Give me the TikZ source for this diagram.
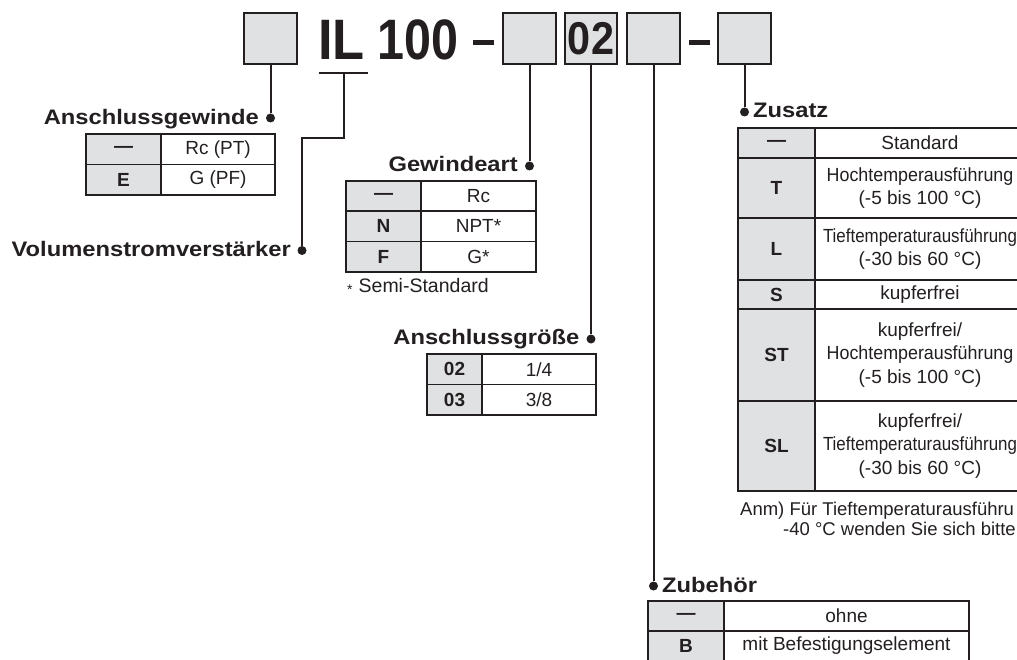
\documentclass[tikz,border=0pt]{standalone}
\usepackage{fontspec}
\setmainfont{Liberation Sans}
\usetikzlibrary{positioning}

\definecolor{ink}{HTML}{231F20}
\definecolor{keygray}{HTML}{E0E1E3}

\tikzstyle{selbox} = [draw=ink, fill=keygray, line width=2pt, minimum width=52.5pt,
    minimum height=51.5pt, inner sep=0pt, outer sep=0pt]
\tikzstyle{bigtxt} = [font=\fontsize{57}{60}\selectfont\bfseries, text=ink, inner sep=0pt]
\tikzstyle{dashbar} = [fill=ink, minimum width=21pt, minimum height=5pt, inner sep=0pt]
\tikzstyle{conn} = [draw=ink, line width=2pt]
\tikzstyle{dot} = [circle, fill=ink, inner sep=0pt, minimum size=9pt]
\tikzstyle{lbl} = [font=\fontsize{21}{25}\selectfont\bfseries, text=ink, inner sep=0pt]
\tikzstyle{note} = [font=\fontsize{18.5}{22}\selectfont, text=ink, inner sep=0pt]
\tikzstyle{cell} = [draw=ink, line width=1.6pt, inner sep=0pt, outer sep=0pt,
    text=ink, align=center]
\tikzstyle{keycell} = [cell, fill=keygray, font=\fontsize{19}{23.5}\selectfont\bfseries]
\tikzstyle{valcell} = [cell, fill=white, font=\fontsize{19}{23.5}\selectfont]

\newcommand{\wide}[1]{\scalebox{1.13}[1]{#1}}
\newcommand{\squeeze}[2]{\scalebox{#1}[1]{#2}}

\begin{document}
\begin{tikzpicture}[x=1pt, y=-1pt, node distance=0pt]
  \path[use as bounding box] (0,0) rectangle (1017,660);
  \clip (0,0) rectangle (1017,660);

  % order code
  \node[selbox] (b1) at (270.5,38.75) {};
  \node[bigtxt, anchor=base west] (il) at (318,59.5) {\squeeze{0.92}{IL}};
  \node[bigtxt, anchor=base west] (num) at (377,59.5) {\squeeze{0.85}{100}};
  \node[dashbar] (dash1) at (483.5,42.5) {};
  \node[selbox] (b2) at (529.5,38.75) {};
  \node[selbox, font=\fontsize{46}{48}\selectfont\bfseries, text=ink] (b3) at (591,38.75) {\squeeze{0.9}{02}};
  \node[selbox] (b4) at (653.5,38.75) {};
  \node[dashbar] (dash2) at (699,42.5) {};
  \node[selbox] (b5) at (744.5,38.75) {};

  \coordinate (ulw) at (318.5,72.8);
  \coordinate (ule) at (367.5,72.8);
  \coordinate (ulm) at (343.5,72.8);
  \draw[ink, line width=2.5pt] (ulw) -- (ule);

  % dots and labels
  \node[dot] (d1) at (270.5,118) {};
  \node[dot] (d2) at (302,250.5) {};
  \node[dot] (d3) at (529.5,166) {};
  \node[dot] (d4) at (591,339) {};
  \node[dot] (d5) at (653.5,586) {};
  \node[dot] (d6) at (744.5,112) {};

  \node[lbl, anchor=base east] (l1) at (259,125) {\wide{Anschlussgewinde}};
  \node[lbl, anchor=base east] (l2) at (291,257) {\wide{Volumenstromverstärker}};
  \node[lbl, anchor=base east] (l3) at (518,172) {\wide{Gewindeart}};
  \node[lbl, anchor=base east] (l4) at (579.5,344) {\wide{Anschlussgröße}};
  \node[lbl, anchor=base west] (l5) at (662,592) {\wide{Zubehör}};
  \node[lbl, anchor=base west] (l6) at (753,118) {\wide{Zusatz}};

  \draw[conn] (b1) -- (d1);
  \draw[conn] (ulm) -- ++(0,65.5) -| (d2);
  \draw[conn] (b2) -- (d3);
  \draw[conn] (b3) -- (d4);
  \draw[conn] (b4) -- (d5);
  \draw[conn] (b5) -- (d6);

  % Anschlussgewinde
  \begin{scope}[keycell/.append style={minimum width=75pt, minimum height=30.5pt},
                valcell/.append style={minimum width=114pt, minimum height=30.5pt}]
    \node[keycell, anchor=north west] (ak1) at (86,134) {—};
    \node[valcell, right=of ak1] (av1) {Rc (PT)};
    \node[keycell, below=of ak1] (ak2) {E};
    \node[valcell, right=of ak2] (av2) {G (PF)};
  \end{scope}

  % Gewindeart
  \begin{scope}[keycell/.append style={minimum width=75pt, minimum height=30.3pt},
                valcell/.append style={minimum width=115pt, minimum height=30.3pt}]
    \node[keycell, anchor=north west] (gk1) at (346,181) {—};
    \node[valcell, right=of gk1] (gv1) {Rc};
    \node[keycell, below=of gk1] (gk2) {N};
    \node[valcell, right=of gk2] (gv2) {NPT*};
    \node[keycell, below=of gk2] (gk3) {F};
    \node[valcell, right=of gk3] (gv3) {G*};
  \end{scope}
  \node[note, font=\fontsize{19.5}{22}\selectfont, anchor=base west] (semi) at (347,293)
    {\raisebox{-1.5pt}{\fontsize{14}{14}\selectfont*}\hspace{6pt}Semi-Standard};

  % Anschlussgroesse
  \begin{scope}[keycell/.append style={minimum width=55pt, minimum height=30.5pt},
                valcell/.append style={minimum width=114pt, minimum height=30.5pt}]
    \node[keycell, anchor=north west] (sk1) at (427,354) {02};
    \node[valcell, right=of sk1] (sv1) {1/4};
    \node[keycell, below=of sk1] (sk2) {03};
    \node[valcell, right=of sk2] (sv2) {3/8};
  \end{scope}

  % Zusatz
  \begin{scope}[keycell/.append style={minimum width=77pt},
                valcell/.append style={minimum width=210pt}]
    \node[keycell, minimum height=30pt, anchor=north west] (zk1) at (738,128) {—};
    \node[valcell, minimum height=30pt, right=of zk1] (zv1) {Standard};
    \node[keycell, minimum height=60pt, below=of zk1] (zk2) {T};
    \node[valcell, minimum height=60pt, right=of zk2] (zv2)
      {\squeeze{0.94}{Hochtemperausführung}\\(-5 bis 100 °C)};
    \node[keycell, minimum height=62pt, below=of zk2] (zk3) {L};
    \node[valcell, minimum height=62pt, right=of zk3] (zv3)
      {\squeeze{0.89}{Tieftemperaturausführung}\\(-30 bis 60 °C)};
    \node[keycell, minimum height=29pt, below=of zk3] (zk4) {S};
    \node[valcell, minimum height=29pt, right=of zk4] (zv4) {kupferfrei};
    \node[keycell, minimum height=92pt, below=of zk4] (zk5) {ST};
    \node[valcell, minimum height=92pt, right=of zk5] (zv5)
      {kupferfrei/\\\squeeze{0.94}{Hochtemperausführung}\\(-5 bis 100 °C)};
    \node[keycell, minimum height=90pt, below=of zk5] (zk6) {SL};
    \node[valcell, minimum height=90pt, right=of zk6] (zv6)
      {kupferfrei/\\\squeeze{0.89}{Tieftemperaturausführung}\\(-30 bis 60 °C)};
  \end{scope}
  \node[note, anchor=base west] (anm1) at (740,515) {Anm) Für Tieftemperaturausführu};
  \node[note, anchor=base west] (anm2) at (783,535) {-40 °C wenden Sie sich bitte};

  % Zubehoer
  \begin{scope}[keycell/.append style={minimum width=76pt, minimum height=30pt},
                valcell/.append style={minimum width=245pt, minimum height=30pt}]
    \node[keycell, anchor=north west] (ek1) at (648,601) {—};
    \node[valcell, right=of ek1] (ev1) {ohne};
    \node[keycell, below=of ek1] (ek2) {B};
    \node[valcell, right=of ek2] (ev2) {mit Befestigungselement};
  \end{scope}
\end{tikzpicture}
\end{document}
